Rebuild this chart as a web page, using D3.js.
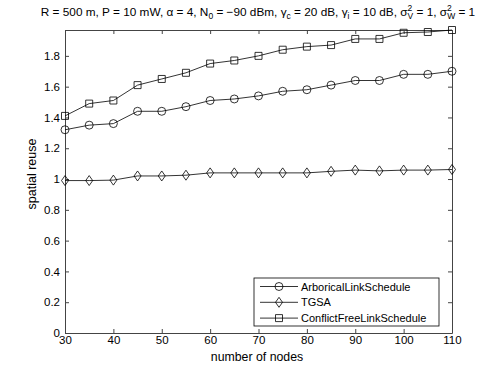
<!DOCTYPE html>
<html>
<head>
<meta charset="utf-8">
<script src="https://d3js.org/d3.v7.min.js"></script>
<style>
  body { margin: 0; background: #fff; }
  svg text { font-family: "Liberation Sans", Arial, sans-serif; }
</style>
</head>
<body>
<div id="drawing_region"></div>
<script>
// values
const nodes = [30, 35, 40, 45, 50, 55, 60, 65, 70, 75, 80, 85, 90, 95, 100, 105, 110];
const arborical = [1.32, 1.35, 1.36, 1.44, 1.44, 1.47, 1.51, 1.52, 1.54, 1.57, 1.58, 1.61, 1.64, 1.64, 1.68, 1.68, 1.70];
const tgsa = [0.99, 0.99, 0.993, 1.02, 1.02, 1.025, 1.04, 1.04, 1.04, 1.04, 1.04, 1.05, 1.058, 1.053, 1.058, 1.058, 1.062];
const conflictFree = [1.41, 1.49, 1.51, 1.61, 1.65, 1.69, 1.75, 1.77, 1.80, 1.84, 1.86, 1.87, 1.91, 1.91, 1.95, 1.955, 1.968];
const seriesNames = ["ArboricalLinkSchedule", "TGSA", "ConflictFreeLinkSchedule"];
const xTicks = [30, 40, 50, 60, 70, 80, 90, 100, 110];
const yTicks = [0, 0.2, 0.4, 0.6, 0.8, 1, 1.2, 1.4, 1.6, 1.8];

const W = 498, H = 375;
const margin = {top: 30, right: 46, bottom: 42, left: 65};
const iw = W - margin.left - margin.right;
const ih = H - margin.top - margin.bottom;

const svg = d3.select('#drawing_region').append('svg')
    .attr('width', W).attr('height', H);

const g = svg.append('g')
    .attr('transform', `translate(${margin.left},${margin.top})`);

const x = d3.scaleLinear().domain([30, 110]).range([0, iw]);
const y = d3.scaleLinear().domain([0, 1.968]).range([ih, 0]);

const fmt = d => String(d);

// axes, ticks pointing inward like MATLAB
g.append('g').attr('class', 'axis')
    .attr('transform', `translate(0,${ih})`)
    .call(d3.axisBottom(x).tickValues(xTicks).tickFormat(fmt).tickSizeInner(-4).tickSizeOuter(0).tickPadding(3));
g.append('g').attr('class', 'axis')
    .call(d3.axisTop(x).tickValues(xTicks).tickFormat('').tickSizeInner(-4).tickSizeOuter(0));
g.append('g').attr('class', 'axis')
    .call(d3.axisLeft(y).tickValues(yTicks).tickFormat(fmt).tickSizeInner(-4).tickSizeOuter(0).tickPadding(5));
g.append('g').attr('class', 'axis')
    .attr('transform', `translate(${iw},0)`)
    .call(d3.axisRight(y).tickValues(yTicks).tickFormat('').tickSizeInner(-4).tickSizeOuter(0));

g.selectAll('.axis path, .axis line').attr('stroke', '#444').attr('stroke-width', 1);
g.selectAll('.axis text').attr('font-size', 11.5).attr('fill', '#000');

// series
const series = [
    {name: seriesNames[0], values: arborical, symbol: 'circle'},
    {name: seriesNames[1], values: tgsa, symbol: 'diamond'},
    {name: seriesNames[2], values: conflictFree, symbol: 'square'}
];

function markerPath(symbol) {
    if (symbol === 'circle') return d3.symbol(d3.symbolCircle, 50)();
    if (symbol === 'square') return 'M-3.5,-3.5H3.5V3.5H-3.5Z';
    return 'M0,-5L3.5,0L0,5L-3.5,0Z';
}

const line = d3.line().x(d => x(d[0])).y(d => y(d[1]));

series.forEach(s => {
    const pts = nodes.map((n, i) => [n, s.values[i]]);
    g.append('path')
        .datum(pts)
        .attr('fill', 'none')
        .attr('stroke', '#000')
        .attr('stroke-width', 0.8)
        .attr('d', line);
    g.selectAll(null)
        .data(pts)
        .enter().append('path')
        .attr('transform', d => `translate(${x(d[0])},${y(d[1])})`)
        .attr('d', markerPath(s.symbol))
        .attr('fill', 'none')
        .attr('stroke', '#000')
        .attr('stroke-width', 0.8);
});

// legend
const lg = svg.append('g').attr('transform', 'translate(254,278)');
lg.append('rect')
    .attr('width', 185).attr('height', 48)
    .attr('fill', '#fff').attr('stroke', '#000').attr('stroke-width', 0.8);
series.forEach((s, i) => {
    const yy = 8.5 + i * 15.8;
    lg.append('line')
        .attr('x1', 6).attr('x2', 44).attr('y1', yy).attr('y2', yy)
        .attr('stroke', '#000').attr('stroke-width', 0.8);
    lg.append('path')
        .attr('transform', `translate(25,${yy})`)
        .attr('d', markerPath(s.symbol))
        .attr('fill', 'none').attr('stroke', '#000').attr('stroke-width', 0.8);
    lg.append('text')
        .attr('x', 47).attr('y', yy + 4)
        .attr('font-size', 11)
        .text(s.name);
});

// axis labels
svg.append('text')
    .attr('x', 257).attr('y', 360.5)
    .attr('text-anchor', 'middle').attr('font-size', 12.3)
    .text('number of nodes');
svg.append('text')
    .attr('transform', `translate(36,174) rotate(-90)`)
    .attr('text-anchor', 'middle').attr('font-size', 12.5)
    .text('spatial reuse');

// title with sub/superscripts
const title = svg.append('text')
    .attr('x', 258).attr('y', 16)
    .attr('text-anchor', 'middle').attr('font-size', 11.8);
title.append('tspan').text('R = 500 m, P = 10 mW, α = 4, N');
title.append('tspan').attr('dy', 3).attr('font-size', 8.5).text('0');
title.append('tspan').attr('dy', -3).text(' = −90 dBm, γ');
title.append('tspan').attr('dy', 3).attr('font-size', 8.5).text('c');
title.append('tspan').attr('dy', -3).text(' = 20 dB, γ');
title.append('tspan').attr('dy', 3).attr('font-size', 8.5).text('i');
title.append('tspan').attr('dy', -3).text(' = 10 dB, σ');
title.append('tspan').attr('dy', -5).attr('font-size', 8.5).text('2');
title.append('tspan').attr('dy', 8).attr('dx', -4.7).attr('font-size', 8.5).text('V');
title.append('tspan').attr('dy', -3).text(' = 1, σ');
title.append('tspan').attr('dy', -5).attr('font-size', 8.5).text('2');
title.append('tspan').attr('dy', 8).attr('dx', -4.7).attr('font-size', 8.5).text('W');
title.append('tspan').attr('dy', -3).text(' = 1');
</script>
</body>
</html>
